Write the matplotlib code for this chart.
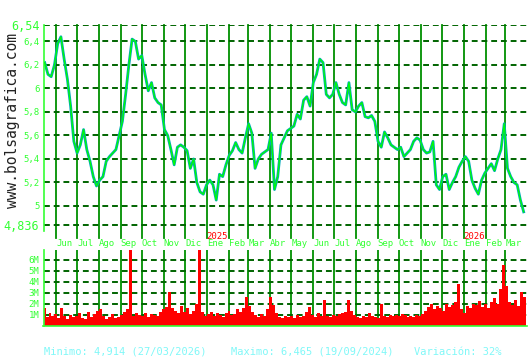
import matplotlib
matplotlib.use("Agg")
import matplotlib.pyplot as plt
import matplotlib.transforms as mtransforms
import pandas as pd

# closing price, every 3 px (mid-May 2024 .. 27/03/2026)
close = [6.22, 6.12, 6.10, 6.20, 6.38, 6.44, 6.25, 6.08, 5.85, 5.55,
         5.45, 5.52, 5.65, 5.48, 5.38, 5.25, 5.17, 5.22, 5.25, 5.38,
         5.42, 5.45, 5.48, 5.60, 5.72, 5.95, 6.20, 6.42, 6.40, 6.25,
         6.28, 6.12, 5.98, 6.05, 5.92, 5.88, 5.86, 5.65,
         5.60, 5.48, 5.35, 5.50, 5.52, 5.50, 5.47, 5.32, 5.40, 5.20,
         5.12, 5.10, 5.18, 5.22, 5.18, 5.05, 5.27, 5.25, 5.35, 5.43,
         5.47, 5.54, 5.48, 5.45, 5.58, 5.70, 5.62, 5.32, 5.40, 5.44,
         5.46, 5.48, 5.62, 5.14, 5.25, 5.52, 5.58,
         5.64, 5.66, 5.68, 5.78, 5.74, 5.90, 5.93, 5.85, 6.05, 6.12,
         6.25, 6.22, 5.95, 5.92, 5.95, 6.05, 5.95, 5.88, 5.86, 6.05,
         5.82, 5.80, 5.85, 5.88, 5.76, 5.75, 5.77, 5.72, 5.55, 5.50,
         5.63, 5.58, 5.52, 5.50, 5.48, 5.50, 5.42,
         5.45, 5.48, 5.55, 5.58, 5.56, 5.48, 5.45, 5.46, 5.55, 5.18,
         5.14, 5.25, 5.27, 5.14, 5.20, 5.25, 5.33, 5.38, 5.42, 5.38,
         5.22, 5.15, 5.10, 5.22, 5.28, 5.32, 5.36, 5.30, 5.40, 5.48,
         5.70, 5.32, 5.25, 5.20, 5.18, 5.05, 4.95]

# volume in millions, roughly every 3 px
volume = [1.6, 0.8, 1.2, 0.9,
          1.1, 0.7, 1.6, 0.9, 0.6, 1.0, 0.8,
          0.9, 1.2, 0.7, 0.6, 1.3, 0.8, 1.1,
          1.4, 1.5, 0.9, 0.6, 0.8, 1.1, 0.7,
          0.8, 1.0, 1.3, 1.5, 7.0, 0.9, 1.2,
          1.0, 0.9, 1.2, 0.8, 1.1, 1.0, 0.9, 1.3,
          1.5, 1.7, 3.1, 1.6, 1.4, 1.2, 1.8,
          1.3, 1.6, 1.1, 1.4, 2.0, 7.0, 1.3,
          0.9, 1.1, 1.3, 0.9, 1.2, 1.0, 0.8,
          1.2, 1.4, 1.0, 1.1, 1.5, 1.3, 1.6,
          2.6, 1.8, 1.3, 1.0, 0.8, 1.1, 0.9,
          1.5, 2.6, 1.9, 1.2, 0.8, 0.7, 0.9,
          0.8, 0.9, 0.7, 1.0, 0.8, 0.9, 1.3,
          1.7, 1.0, 0.8, 1.2, 0.9, 2.4, 0.9,
          0.8, 1.0, 0.9, 1.1, 1.2, 1.3, 2.4, 1.4,
          1.0, 0.8, 0.7, 0.9, 0.8, 1.2, 0.9,
          0.8, 0.7, 2.0, 0.9, 0.8, 1.0, 0.9,
          1.0, 0.9, 1.1, 1.0, 0.8, 0.9, 0.8, 1.0,
          0.9, 1.1, 1.4, 1.7, 2.0, 1.5, 1.8,
          1.6, 1.4, 2.0, 1.7, 1.9, 2.2, 3.8, 1.5,
          1.2, 1.8, 1.6, 2.0, 1.9, 2.3, 1.7,
          2.0, 1.6, 2.2, 2.5, 2.0, 3.4, 5.5,
          3.6, 2.2, 1.9, 2.4, 1.8, 3.1, 2.6]

price_levels = [6.54, 6.4, 6.2, 6.0, 5.8, 5.6, 5.4, 5.2, 5.0, 4.836]
price_labels = ["6,54", "6,4", "6,2", "6", "5,8", "5,6", "5,4", "5,2", "5", "4,836"]
vol_levels = [1, 2, 3, 4, 5, 6]
vol_labels = ["1M", "2M", "3M", "4M", "5M", "6M"]
months = ["Jun", "Jul", "Ago", "Sep", "Oct", "Nov", "Dic", "Ene", "Feb", "Mar", "Abr",
          "May", "Jun", "Jul", "Ago", "Sep", "Oct", "Nov", "Dic", "Ene", "Feb", "Mar"]
years = {"2025-01-01": "2025", "2026-01-01": "2026"}
footer = ["Minimo: 4,914 (27/03/2026)", "Maximo: 6,465 (19/09/2024)", "Variación: 32%"]

LIME = "#33ff33"
VGRID = "#009000"
HGRID = "#006400"
MONO = "DejaVu Sans Mono"

W, H = 530, 360
fig = plt.figure(figsize=(W / 100, H / 100), dpi=100)
fig.patch.set_facecolor("white")
ax = fig.add_axes([43.5 / W, 1 - 231 / H, 483.5 / W, 206 / H])
axv = fig.add_axes([43.5 / W, 1 - 326 / H, 483.5 / W, 76 / H])

x0 = pd.Timestamp("2024-05-14 06:00")
x1 = pd.Timestamp("2026-03-31 18:00")
month_starts = pd.date_range("2024-06-01", "2026-03-01", freq="MS")

price_dates = pd.date_range("2024-05-16", "2026-03-27", periods=len(close))
vol_dates = pd.date_range("2024-05-15", "2026-03-28", periods=len(volume))
bar_w = (vol_dates[1] - vol_dates[0]) / pd.Timedelta(days=1)

for a in (ax, axv):
    a.set_xlim(x0, x1)
    a.set_facecolor("white")
    for s in ["top", "right", "bottom"]:
        a.spines[s].set_visible(False)
    a.spines["left"].set_color(LIME)
    a.spines["left"].set_linewidth(1.2)
    a.set_xticks([])
    a.tick_params(axis="y", length=0, pad=3, labelcolor=LIME)

# price panel
ax.set_ylim(4.787, 6.54)
for m in month_starts:
    ax.axvline(m, ymin=-0.035, ymax=1, color=VGRID, lw=1.3, clip_on=False, zorder=1)
for v in price_levels:
    ax.axhline(v, color=HGRID, lw=1.4, ls=(0, (3, 2)), zorder=1)
ax.plot(price_dates, close, color="#00a8b8", lw=2.0, zorder=2)
ax.plot(price_dates, close, color="#00ff00", lw=0.9, zorder=3)
ax.set_yticks(price_levels)
ax.set_yticklabels(price_labels, family=MONO, fontsize=6.5)
tl = ax.get_yticklabels()
tl[0].set_fontsize(8.5)
tl[-1].set_fontsize(8.5)

# month and year labels
trans = mtransforms.blended_transform_factory(ax.transData, ax.transAxes)
for m, lab in zip(month_starts, months):
    ax.text(m, -0.063, lab, transform=trans, ha="left", va="center",
            color=LIME, family=MONO, fontsize=6.5, clip_on=False)
for d, lab in years.items():
    ax.text(pd.Timestamp(d), -0.025, lab, transform=trans, ha="left", va="center",
            color="red", family=MONO, fontsize=6.5, clip_on=False)

# volume panel
axv.set_ylim(0, 6.9)
axv.spines["bottom"].set_visible(True)
axv.spines["bottom"].set_color(LIME)
axv.spines["bottom"].set_linewidth(1.2)
for m in month_starts:
    axv.axvline(m, color=VGRID, lw=1.3, zorder=1)
for v in vol_levels:
    axv.axhline(v, color=HGRID, lw=1.4, ls=(0, (3, 2)), zorder=1)
axv.bar(vol_dates, volume, width=bar_w, color="red", align="center", zorder=2)
axv.set_yticks(vol_levels)
axv.set_yticklabels(vol_labels, family=MONO, fontsize=6.5)

# watermark and footer
fig.text(13 / W, 1 - 121 / H, "www.bolsagrafica.com", rotation=90, ha="center", va="center",
         family=MONO, fontsize=10.5, color="#222222")
for xp, txt in zip([44, 231, 414], footer):
    fig.text(xp / W, 1 - 352 / H, txt, ha="left", va="center",
             family=MONO, fontsize=7.5, color="#80f8f8")

fig.savefig("out.png", dpi=100)
